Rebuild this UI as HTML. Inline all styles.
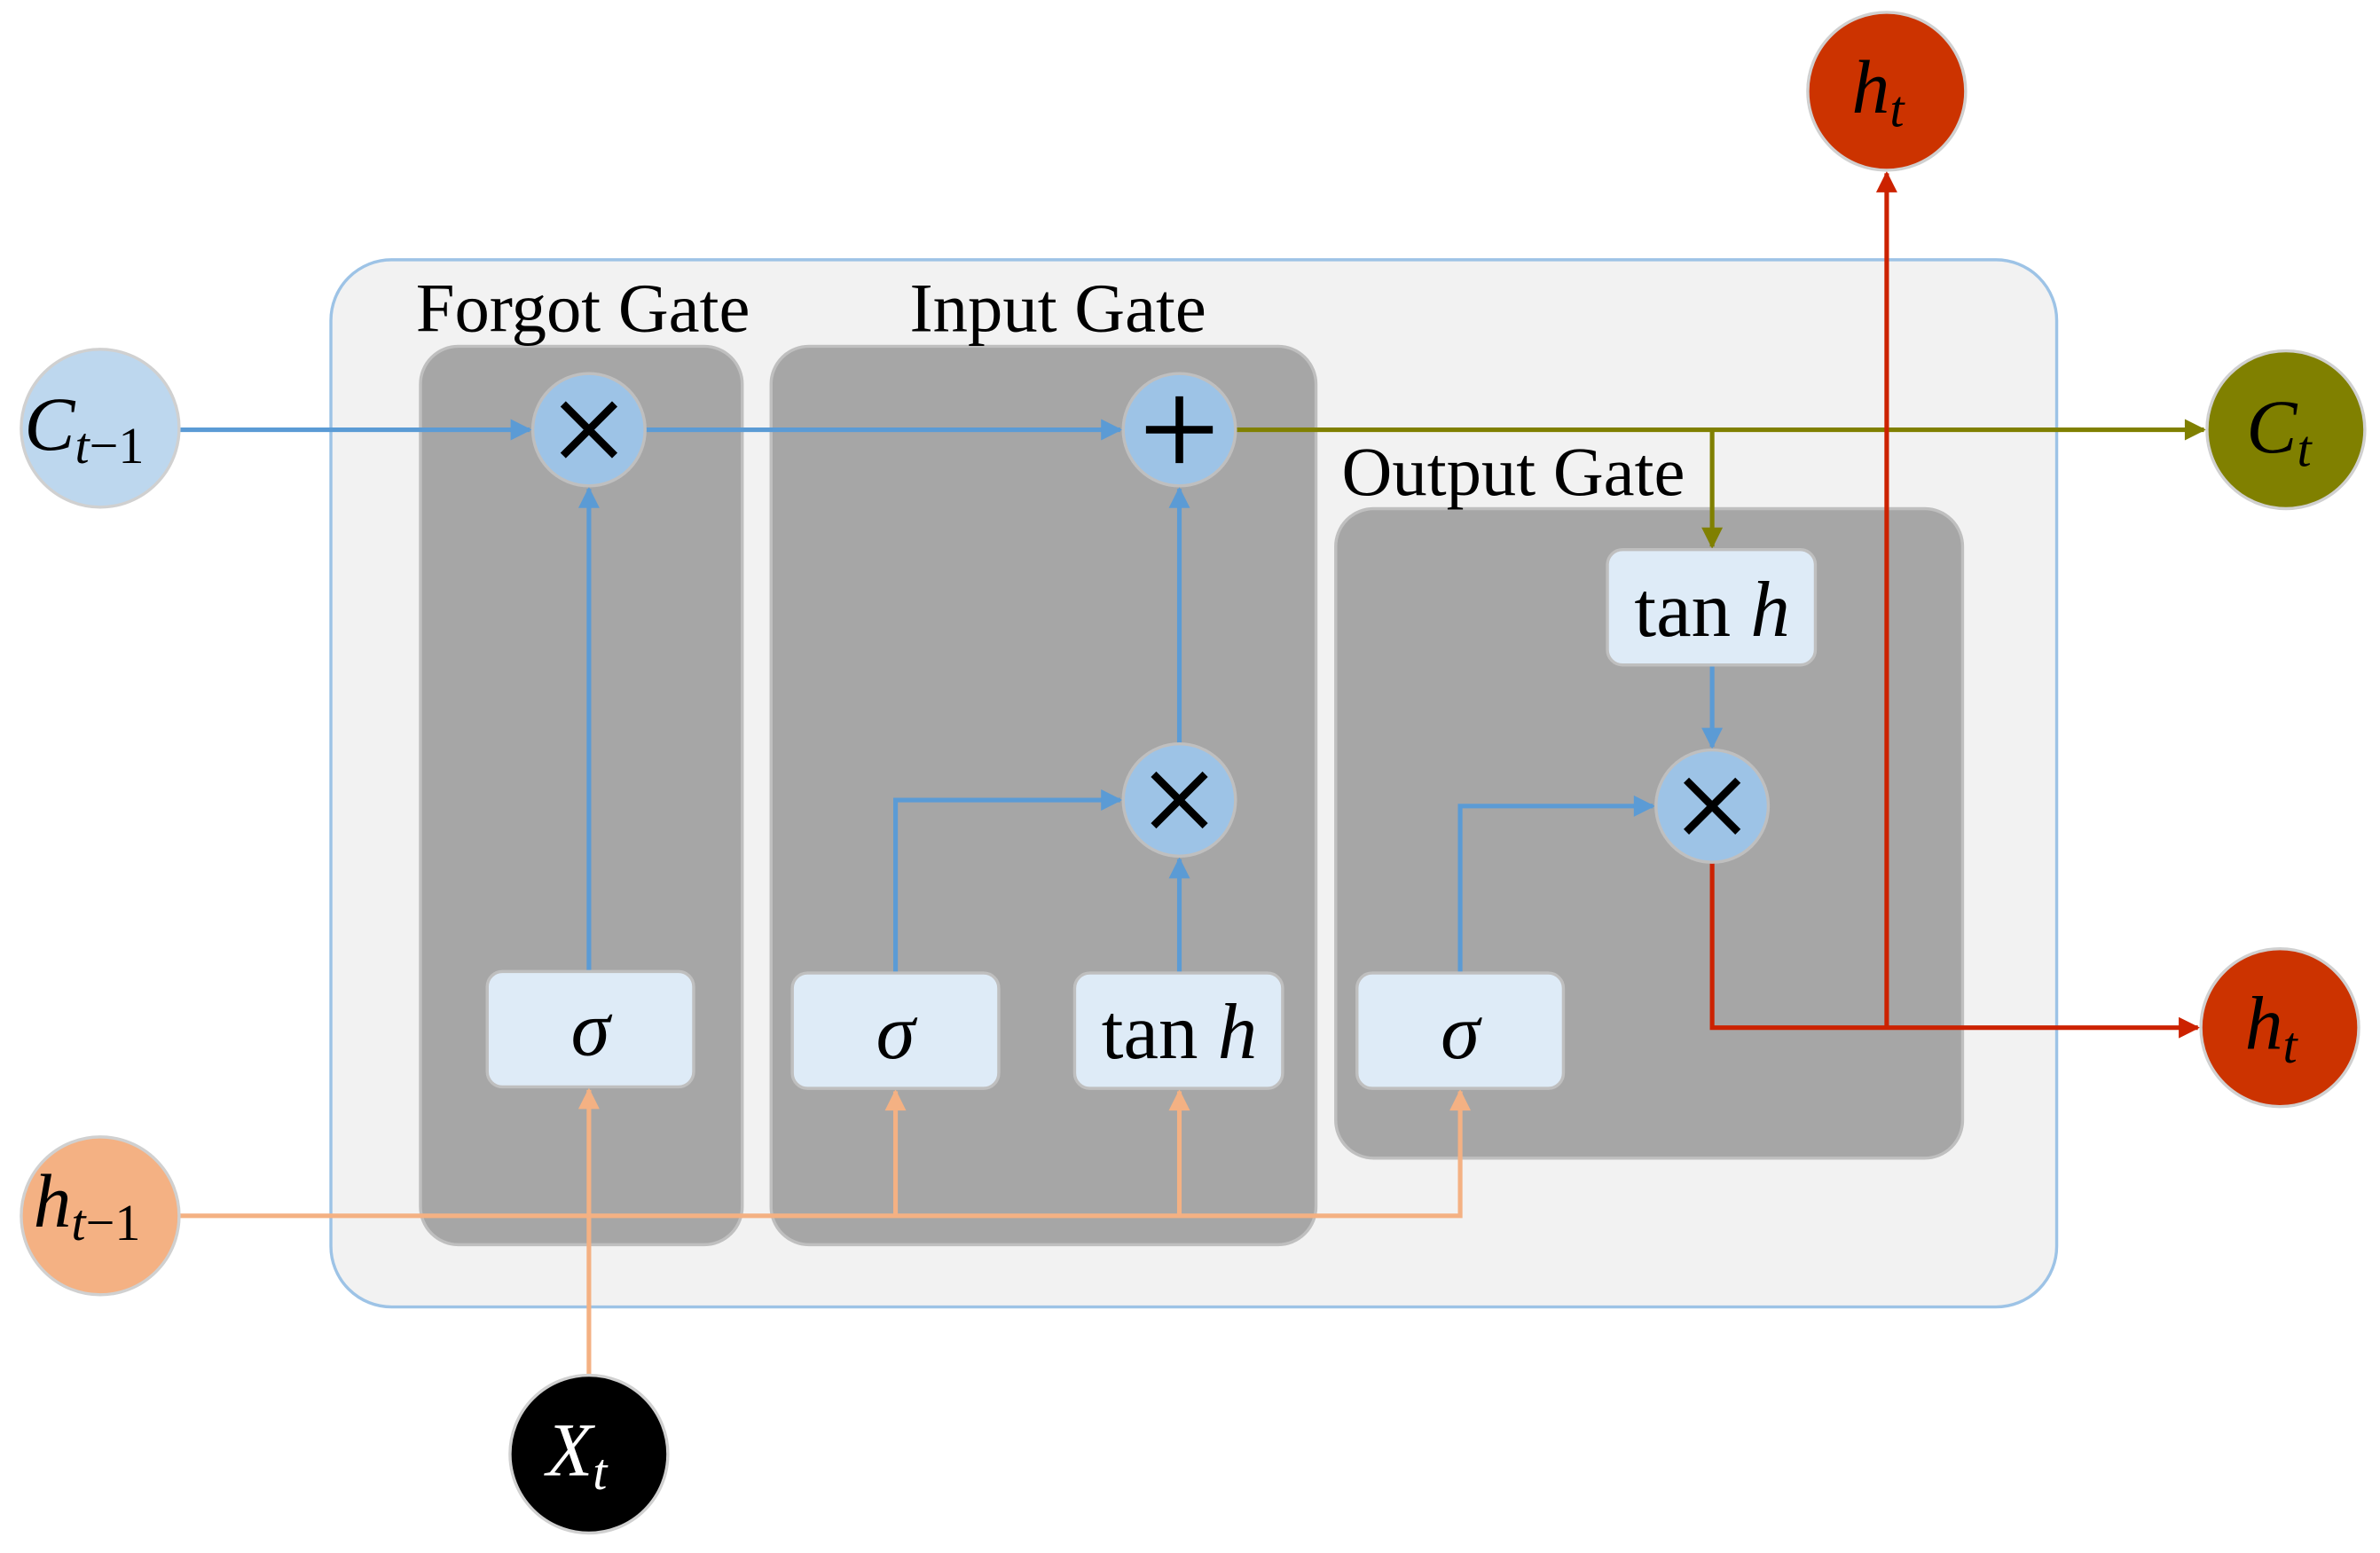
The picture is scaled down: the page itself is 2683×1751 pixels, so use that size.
<!DOCTYPE html>
<html><head><meta charset="utf-8"><style>html,body{margin:0;padding:0;background:#fff}svg{display:block}</style></head>
<body>
<svg width="2683" height="1751" viewBox="0 0 1568 1023" xmlns="http://www.w3.org/2000/svg" font-family="'Liberation Serif', serif">
<defs>
<marker id="ab" viewBox="0 0 10 10" refX="9" refY="5" markerWidth="16" markerHeight="14" orient="auto" markerUnits="userSpaceOnUse"><path d="M0,0 L10,5 L0,10z" fill="#5b9bd5"/></marker>
<marker id="ao" viewBox="0 0 10 10" refX="9" refY="5" markerWidth="16" markerHeight="14" orient="auto" markerUnits="userSpaceOnUse"><path d="M0,0 L10,5 L0,10z" fill="#f4b183"/></marker>
<marker id="ag" viewBox="0 0 10 10" refX="9" refY="5" markerWidth="16" markerHeight="14" orient="auto" markerUnits="userSpaceOnUse"><path d="M0,0 L10,5 L0,10z" fill="#808000"/></marker>
<marker id="ar" viewBox="0 0 10 10" refX="9" refY="5" markerWidth="16" markerHeight="14" orient="auto" markerUnits="userSpaceOnUse"><path d="M0,0 L10,5 L0,10z" fill="#cc2200"/></marker>
</defs>
<rect x="218" y="171" width="1137" height="690" rx="40" fill="#f2f2f2" stroke="#9dc3e6" stroke-width="2"/>
<rect x="277" y="228" width="212" height="592" rx="25" fill="#a6a6a6" stroke="#bfbfbf" stroke-width="2"/>
<rect x="508" y="228" width="359" height="592" rx="25" fill="#a6a6a6" stroke="#bfbfbf" stroke-width="2"/>
<rect x="880" y="335" width="413" height="428" rx="25" fill="#a6a6a6" stroke="#bfbfbf" stroke-width="2"/>
<text x="384" y="218" font-size="46" text-anchor="middle">Forgot Gate</text>
<text x="697" y="218" font-size="46" text-anchor="middle">Input Gate</text>
<text x="997" y="326" font-size="46" text-anchor="middle">Output Gate</text>
<g fill="none" stroke-width="3">
<path d="M118,283 H349" stroke="#5b9bd5" marker-end="url(#ab)"/>
<path d="M425,283 H738" stroke="#5b9bd5" marker-end="url(#ab)"/>
<path d="M388,640 V322" stroke="#5b9bd5" marker-end="url(#ab)"/>
<path d="M777,490 V322" stroke="#5b9bd5" marker-end="url(#ab)"/>
<path d="M777,641 V566" stroke="#5b9bd5" marker-end="url(#ab)"/>
<path d="M590,641 V527 H738" stroke="#5b9bd5" marker-end="url(#ab)"/>
<path d="M962,641 V531 H1089" stroke="#5b9bd5" marker-end="url(#ab)"/>
<path d="M1128,438 V492" stroke="#5b9bd5" marker-end="url(#ab)"/>
<path d="M814,283 H1452" stroke="#808000" marker-end="url(#ag)"/>
<path d="M1128,283 V360" stroke="#808000" marker-end="url(#ag)"/>
<path d="M1128,568 V677 H1448" stroke="#cc2200" marker-end="url(#ar)"/>
<path d="M1243,677 V114" stroke="#cc2200" marker-end="url(#ar)"/>
<path d="M118,801 H962 V719" stroke="#f4b183" marker-end="url(#ao)"/>
<path d="M590,801 V719" stroke="#f4b183" marker-end="url(#ao)"/>
<path d="M777,801 V719" stroke="#f4b183" marker-end="url(#ao)"/>
<path d="M388,906 V718" stroke="#f4b183" marker-end="url(#ao)"/>
</g>
<g fill="#deebf7" stroke="#bfbfbf" stroke-width="2">
<rect x="321" y="640" width="136" height="76" rx="10"/>
<rect x="522" y="641" width="136" height="76" rx="10"/>
<rect x="708" y="641" width="137" height="76" rx="10"/>
<rect x="894" y="641" width="136" height="76" rx="10"/>
<rect x="1059" y="362" width="137" height="76" rx="10"/>
</g>
<g font-size="52" text-anchor="middle">
<text x="389" y="695" font-style="italic">σ</text>
<text x="590" y="697" font-style="italic">σ</text>
<text x="962" y="697" font-style="italic">σ</text>
<text x="777" y="697">tan <tspan font-style="italic">h</tspan></text>
<text x="1128" y="419">tan <tspan font-style="italic">h</tspan></text>
</g>
<g fill="#9dc3e6" stroke="#bfbfbf" stroke-width="2">
<circle cx="388" cy="283" r="37"/><circle cx="777" cy="283" r="37"/>
<circle cx="777" cy="527" r="37"/><circle cx="1128" cy="531" r="37"/>
</g>
<g stroke="#000" stroke-width="5">
<path d="M371,266 L405,300 M405,266 L371,300"/>
<path d="M760,510 L794,544 M794,510 L760,544"/>
<path d="M1111,514 L1145,548 M1145,514 L1111,548"/>
<path d="M777,261 V305 M755,283 H799"/>
</g>
<g stroke="#d0d0d0" stroke-width="2">
<circle cx="66" cy="282" r="52" fill="#bdd7ee"/>
<circle cx="66" cy="801" r="52" fill="#f4b183"/>
<circle cx="388" cy="958" r="52" fill="#000"/>
<circle cx="1506" cy="283" r="52" fill="#808000"/>
<circle cx="1243" cy="60" r="52" fill="#cc3300"/>
<circle cx="1502" cy="677" r="52" fill="#cc3300"/>
</g>
<g font-size="50" font-style="italic">
<text x="16" y="296">C<tspan font-size="34" dy="9">t</tspan><tspan font-size="34" font-style="normal">−1</tspan></text>
<text x="22" y="808">h<tspan font-size="34" dy="9">t</tspan><tspan font-size="34" font-style="normal">−1</tspan></text>
<text x="360" y="972" fill="#fff">X<tspan font-size="34" dy="9">t</tspan></text>
<text x="1480" y="298">C<tspan font-size="34" dy="9">t</tspan></text>
<text x="1220" y="74">h<tspan font-size="34" dy="9">t</tspan></text>
<text x="1479" y="691">h<tspan font-size="34" dy="9">t</tspan></text>
</g>
</svg>
</body></html>
